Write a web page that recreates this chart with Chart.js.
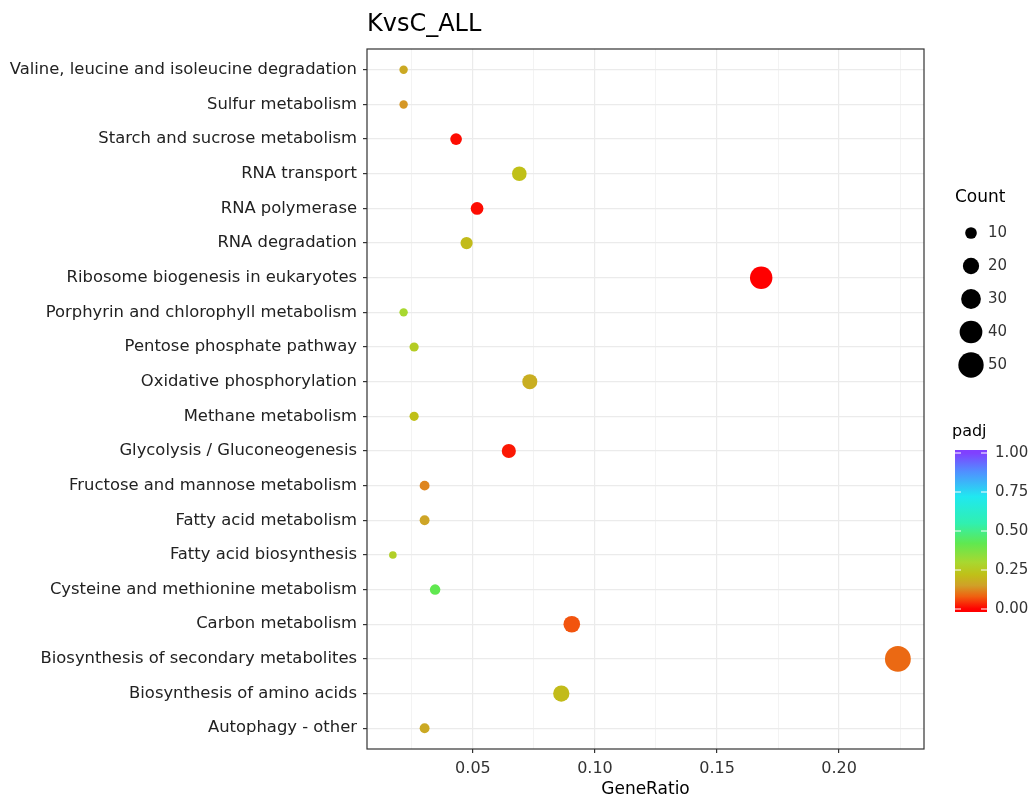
<!DOCTYPE html>
<html>
<head>
<meta charset="utf-8">
<script src="https://cdn.jsdelivr.net/npm/chart.js@4.4.1/dist/chart.umd.min.js"></script>
<style>
html, body { margin: 0; background: #fff; }
</style>
</head>
<body>
<canvas id="chart" width="1031" height="800"></canvas>
<script>
// pathways, top to bottom
const categories = [
    'Valine, leucine and isoleucine degradation',
    'Sulfur metabolism',
    'Starch and sucrose metabolism',
    'RNA transport',
    'RNA polymerase',
    'RNA degradation',
    'Ribosome biogenesis in eukaryotes',
    'Porphyrin and chlorophyll metabolism',
    'Pentose phosphate pathway',
    'Oxidative phosphorylation',
    'Methane metabolism',
    'Glycolysis / Gluconeogenesis',
    'Fructose and mannose metabolism',
    'Fatty acid metabolism',
    'Fatty acid biosynthesis',
    'Cysteine and methionine metabolism',
    'Carbon metabolism',
    'Biosynthesis of secondary metabolites',
    'Biosynthesis of amino acids',
    'Autophagy - other'
]
const geneRatio = [0.0216, 0.0216, 0.0431, 0.0690, 0.0517, 0.0474, 0.1681, 0.0216, 0.0259, 0.0733,
                   0.0259, 0.0647, 0.0302, 0.0302, 0.0172, 0.0345, 0.0905, 0.2241, 0.0862, 0.0302]
const counts = [5, 5, 10, 16, 12, 11, 39, 5, 6, 17, 6, 15, 7, 7, 4, 8, 21, 52, 20, 7]
const padj = [0.17, 0.14, 0.01, 0.22, 0.01, 0.21, 0.00, 0.30, 0.26, 0.18,
              0.22, 0.02, 0.12, 0.16, 0.27, 0.42, 0.07, 0.09, 0.21, 0.17]

const xTickLabels = [0.05, 0.10, 0.15, 0.20]
const xMinorGrid = [0.025, 0.075, 0.125, 0.175, 0.225]
const countBreaks = [10, 20, 30, 40, 50]
const padjBreaks = [0, 0.25, 0.5, 0.75, 1]

// colour ramp for padj
const rampStops = [0, 0.08, 0.15, 0.22, 0.30, 0.42, 0.55, 0.72, 0.88, 1]
const rampColors = ['#ff0000', '#f06010', '#d0a028', '#c0c018', '#a8d830', '#60e850', '#30f0b0', '#20e8f0', '#5090ff', '#8040ff']

function hexRgb(h) {
    return [parseInt(h.slice(1, 3), 16), parseInt(h.slice(3, 5), 16), parseInt(h.slice(5, 7), 16)]
}
function colorAt(p) {
    for (let i = 1; i < rampStops.length; i++) {
        if (p <= rampStops[i]) {
            const t = (p - rampStops[i - 1]) / (rampStops[i] - rampStops[i - 1])
            const a = hexRgb(rampColors[i - 1]), b = hexRgb(rampColors[i])
            return 'rgb(' + a.map((v, k) => Math.round(v + (b[k] - v) * t)).join(',') + ')'
        }
    }
    return rampColors[rampColors.length - 1]
}
function dotRadius(c) {
    return 1.75 * Math.sqrt(c) + 0.3
}
const isMajor = v => xTickLabels.some(t => Math.abs(t - v) < 1e-9)

Chart.defaults.font.family = '"DejaVu Sans", sans-serif'

// title, panel border and the two legends
const extras = {
    id: 'extras',
    afterDraw(chart) {
        const c = chart.ctx
        const a = chart.chartArea
        c.save()
        c.strokeStyle = '#333'
        c.lineWidth = 1.2
        c.strokeRect(a.left, a.top, a.right - a.left, a.bottom - a.top)

        c.fillStyle = '#000'
        c.textBaseline = 'middle'
        c.font = '24px "DejaVu Sans"'
        c.fillText('KvsC_ALL', 367, 25)

        // Count legend
        c.font = '17px "DejaVu Sans"'
        c.fillText('Count', 955, 198)
        c.font = '15px "DejaVu Sans"'
        countBreaks.forEach((v, i) => {
            const y = 233 + i * 33
            c.fillStyle = '#000'
            c.beginPath()
            c.arc(971, y, dotRadius(v), 0, Math.PI * 2)
            c.fill()
            c.fillStyle = '#333'
            c.fillText(String(v), 988, y)
        })

        // padj colour bar
        c.fillStyle = '#000'
        c.font = '16px "DejaVu Sans"'
        c.fillText('padj', 952, 432)
        const top = 450, bot = 612, x0 = 955, w = 32
        const g = c.createLinearGradient(0, bot - 3, 0, top + 3)
        rampStops.forEach((s, i) => g.addColorStop(s, rampColors[i]))
        c.fillStyle = g
        c.fillRect(x0, top, w, bot - top)
        c.font = '15px "DejaVu Sans"'
        padjBreaks.forEach(v => {
            const y = bot - 3 - v * (bot - top - 6)
            c.strokeStyle = '#fff'
            c.lineWidth = 1
            c.beginPath()
            c.moveTo(x0, y); c.lineTo(x0 + 6, y)
            c.moveTo(x0 + w - 6, y); c.lineTo(x0 + w, y)
            c.stroke()
            c.fillStyle = '#333'
            c.fillText(v.toFixed(2), 995, y)
        })
        c.restore()
    }
}

var ctx = document.getElementById('chart').getContext('2d')

var myChart = new Chart(ctx, {
    type: 'scatter',
    data: {
        datasets: [{
            data: categories.map((name, i) => ({ x: geneRatio[i], y: i })),
            pointRadius: counts.map(dotRadius),
            pointHoverRadius: counts.map(dotRadius),
            backgroundColor: padj.map(colorAt),
            borderWidth: 0
        }]
    },
    options: {
        responsive: false,
        devicePixelRatio: 1,
        animation: false,
        layout: { padding: { top: 49, right: 107, left: 0, bottom: 0 } },
        plugins: {
            legend: { display: false },
            tooltip: { enabled: false }
        },
        scales: {
            x: {
                type: 'linear',
                min: 0.0066,
                max: 0.2348,
                afterBuildTicks: axis => {
                    axis.ticks = xMinorGrid.concat(xTickLabels).sort((p, q) => p - q).map(v => ({ value: v }))
                },
                afterFit: s => { s.height = 51 },
                ticks: {
                    autoSkip: false,
                    maxRotation: 0,
                    padding: 6,
                    color: '#333',
                    font: { size: 16 },
                    callback: v => isMajor(v) ? v.toFixed(2) : ''
                },
                grid: {
                    color: '#ebebeb',
                    lineWidth: c => (c.tick && isMajor(c.tick.value)) ? 1.2 : 0.6,
                    tickLength: 4,
                    tickColor: c => (c.tick && isMajor(c.tick.value)) ? '#333' : 'rgba(0,0,0,0)'
                },
                border: { display: false },
                title: {
                    display: true,
                    text: 'GeneRatio',
                    color: '#000',
                    font: { size: 17 },
                    padding: { top: 0, bottom: 0 }
                }
            },
            y: {
                type: 'linear',
                reverse: true,
                min: -0.6,
                max: 19.6,
                afterBuildTicks: axis => {
                    axis.ticks = categories.map((name, i) => ({ value: i }))
                },
                afterFit: s => { s.width = 367 },
                ticks: {
                    autoSkip: false,
                    padding: 6,
                    color: '#222',
                    font: { size: 16.4 },
                    callback: v => categories[v]
                },
                grid: {
                    color: '#ebebeb',
                    lineWidth: 1.2,
                    tickLength: 4,
                    tickColor: '#333'
                },
                border: { display: false }
            }
        }
    },
    plugins: [extras]
})
</script>
</body>
</html>
